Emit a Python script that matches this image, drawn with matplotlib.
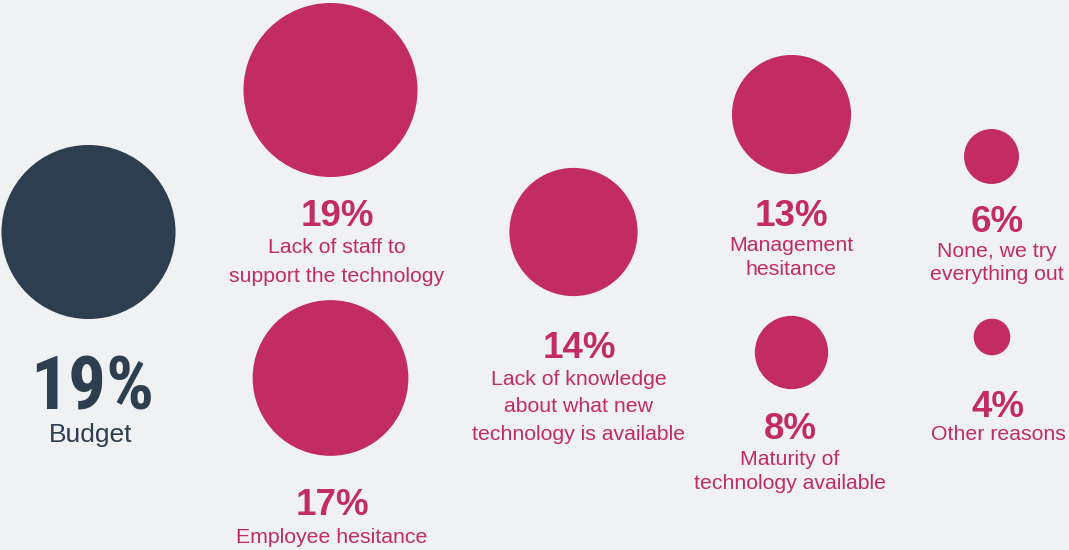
import matplotlib
matplotlib.use("Agg")
import matplotlib.pyplot as plt
from matplotlib.patches import Circle
from matplotlib import font_manager as fm

# ---- data ----
categories = ["Budget", "Lack of staff to\nsupport the technology", "Employee hesitance",
              "Lack of knowledge\nabout what new\ntechnology is available",
              "Management\nhesitance", "Maturity of\ntechnology available",
              "None, we try\neverything out", "Other reasons"]
values = [19, 19, 17, 14, 13, 8, 6, 4]
highlight = [True, False, False, False, False, False, False, False]

# ---- layout (pixel grid) ----
W, H = 1069, 550
col_x = [88.5, 330.5, 330.5, 573.5, 791.5, 791.5, 991.5, 992]
circle_y = [232, 90, 378, 232, 114.5, 352.5, 156.5, 337]
pct_baseline = [409, 226, 515, 358, 226, 439, 232, 417]
label_x = [91, 337, 332, 579, 791, 790, 997, 998]
label_baseline = [442, 253, 543, 385, 251, 465, 257, 440]
line_gap = [0, 29, 0, 27.5, 24, 24, 23, 0]
r_scale = 4.58

BG = "#f0f1f3"
NAVY = "#2c3e50"
PINK = "#c32c63"


def pick_narrow_bold():
    prefs = ["liberationsansnarrow-bold.", "robotocondensed-bold.", "notosans-extracondensedbold.",
             "notosans-condensedbold.", "opensans-condensedbold.", "dejavusanscondensed-bold."]
    files = [f.fname for f in fm.fontManager.ttflist]
    low = [f.lower() for f in files]
    for p in prefs:
        for f, l in zip(files, low):
            if p in l.replace("\\", "/").split("/")[-1]:
                return f
    for f in fm.fontManager.ttflist:
        n = (f.name + " " + f.fname).lower()
        if (("narrow" in n or "condensed" in n) and "bold" in n
                and "italic" not in n and "oblique" not in n):
            return f.fname
    return None


narrow_file = pick_narrow_bold()
if narrow_file:
    big_fp = fm.FontProperties(fname=narrow_file, size=56)
else:
    big_fp = fm.FontProperties(family=["Liberation Sans", "DejaVu Sans"], weight="bold", size=56)

fig = plt.figure(figsize=(W / 100, H / 100), dpi=100, facecolor=BG)
ax = fig.add_axes([0, 0, 1, 1])
ax.set_facecolor(BG)
ax.set_xlim(0, W)
ax.set_ylim(H, 0)
ax.set_aspect("equal")
ax.axis("off")
renderer = fig.canvas.get_renderer()

for i, (cat, v) in enumerate(zip(categories, values)):
    color = NAVY if highlight[i] else PINK
    ax.add_patch(Circle((col_x[i], circle_y[i]), v * r_scale, color=color, lw=0))
    if highlight[i]:
        t = ax.text(label_x[i] + 1, pct_baseline[i], f"{v}%", ha="center", va="baseline",
                    color=color, fontproperties=big_fp)
        wpx = t.get_window_extent(renderer).width
        target = 124.0
        if wpx > target:
            t.set_fontsize(56 * target / wpx)
        ax.text(label_x[i], label_baseline[i], cat, ha="center", va="baseline",
                color=color, fontsize=19, family=["Liberation Sans", "DejaVu Sans"])
    else:
        ax.text(label_x[i], pct_baseline[i], f"{v}%", ha="center", va="baseline",
                color=color, fontsize=26.5, fontweight="bold",
                family=["Liberation Sans", "DejaVu Sans"])
        for j, line in enumerate(cat.split("\n")):
            ax.text(label_x[i], label_baseline[i] + j * line_gap[i], line,
                    ha="center", va="baseline", color=color, fontsize=15.3,
                    family=["Liberation Sans", "DejaVu Sans"])

fig.savefig("out.png", dpi=100, facecolor=BG)
